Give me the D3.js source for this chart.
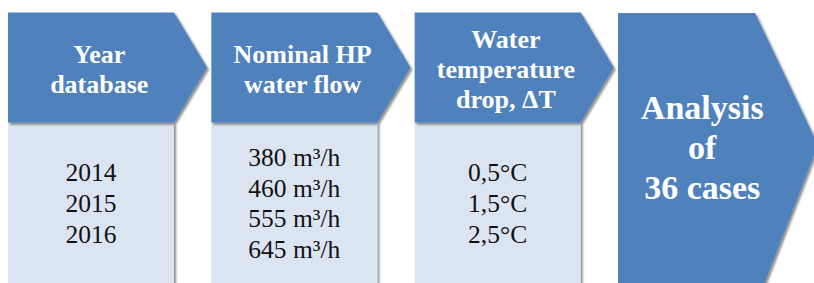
<!DOCTYPE html>
<html>
<head>
<meta charset="utf-8">
<script src="https://cdn.jsdelivr.net/npm/d3@7"></script>
<style>
  html, body { margin: 0; padding: 0; background: #fff; }
  svg { display: block; }
</style>
</head>
<body>
<script>
// step headers (one entry per line)
var headers = [
  ["Year", "database"],
  ["Nominal HP", "water flow"],
  ["Water", "temperature", "drop, \u0394T"]
];
var result = ["Analysis", "of", "36 cases"];

// values listed under each step
var years = ["2014", "2015", "2016"];
var flows = [380, 460, 555, 645];
var drops = ["0,5", "1,5", "2,5"];

var values = [
  years,
  flows.map(function(d) { return d + " m\u00b3/h"; }),
  drops.map(function(d) { return d + "\u00b0C"; })
];

var width = 814,
    height = 283;

var blue = "#4f81bd",
    pale = "#dbe5f1",
    font = "'Liberation Serif', 'Times New Roman', serif";

// step index -> left edge
var x = d3.scaleLinear().domain([0, 3]).range([8, 618]);

var chev = { top: 12.5, bottom: 122.5, w: 166, tip: 33 };
var big = { top: 13, bottom: 300, w: 137, tipX: 818, tipY: 145 };

var svg = d3.select("body").append("svg")
    .attr("width", width)
    .attr("height", height);

var defs = svg.append("defs");
defs.append("filter")
    .attr("id", "shadow")
    .attr("x", "-10%").attr("y", "-10%")
    .attr("width", "130%").attr("height", "130%")
  .append("feDropShadow")
    .attr("dx", 2).attr("dy", 2)
    .attr("stdDeviation", 1.2)
    .attr("flood-color", "#000")
    .attr("flood-opacity", 0.45);

var line = d3.line();

var steps = svg.selectAll(".step")
    .data(headers)
  .enter().append("g")
    .attr("class", "step");

// pale value boxes
steps.append("rect")
    .attr("x", function(d, i) { return x(i); })
    .attr("y", chev.bottom)
    .attr("width", chev.w)
    .attr("height", height - chev.bottom + 20)
    .attr("fill", pale)
    .attr("filter", "url(#shadow)");

// chevron heads
steps.append("path")
    .attr("d", function(d, i) {
        var l = x(i), r = l + chev.w, m = (chev.top + chev.bottom) / 2;
        return line([[l, chev.top], [r, chev.top], [r + chev.tip, m],
                     [r, chev.bottom], [l, chev.bottom]]) + "Z";
    })
    .attr("fill", blue)
    .attr("filter", "url(#shadow)");

function textX(i) {
    var l = x(i), r = l + chev.w;
    return l / 2 + r / 4 + (r + chev.tip) / 4;
}

steps.append("text")
    .attr("font-family", font)
    .attr("font-weight", "bold")
    .attr("font-size", 26)
    .attr("fill", "#fff")
    .attr("text-anchor", "middle")
    .each(function(d, i) {
        var cy = (chev.top + chev.bottom) / 2;
        d3.select(this).selectAll("tspan")
            .data(d)
          .enter().append("tspan")
            .attr("x", textX(i))
            .attr("y", function(t, j) { return cy + (j - (d.length - 1) / 2) * 30 + 10.5; })
            .text(function(t) { return t; });
    });

steps.append("text")
    .attr("font-family", font)
    .attr("font-size", 25.5)
    .attr("fill", "#111")
    .attr("text-anchor", "middle")
    .each(function(d, i) {
        var v = values[i];
        d3.select(this).selectAll("tspan")
            .data(v)
          .enter().append("tspan")
            .attr("x", x(i) + chev.w / 2)
            .attr("y", function(t, j) { return 212 + (j - (v.length - 1) / 2) * 30.7; })
            .text(function(t) { return t; });
    });

// final big chevron
var l4 = x(3), r4 = l4 + big.w;
svg.append("path")
    .attr("d", line([[l4, big.top], [r4, big.top], [big.tipX, big.tipY],
                     [r4 + 3, big.bottom], [l4, big.bottom]]) + "Z")
    .attr("fill", blue)
    .attr("filter", "url(#shadow)");

svg.append("text")
    .attr("font-family", font)
    .attr("font-weight", "bold")
    .attr("font-size", 34)
    .attr("fill", "#fff")
    .attr("text-anchor", "middle")
  .selectAll("tspan")
    .data(result)
  .enter().append("tspan")
    .attr("x", l4 / 2 + r4 / 4 + big.tipX / 4)
    .attr("y", function(t, j) { return 148 + (j - 1) * 40 + 11; })
    .text(function(t) { return t; });
</script>
</body>
</html>
